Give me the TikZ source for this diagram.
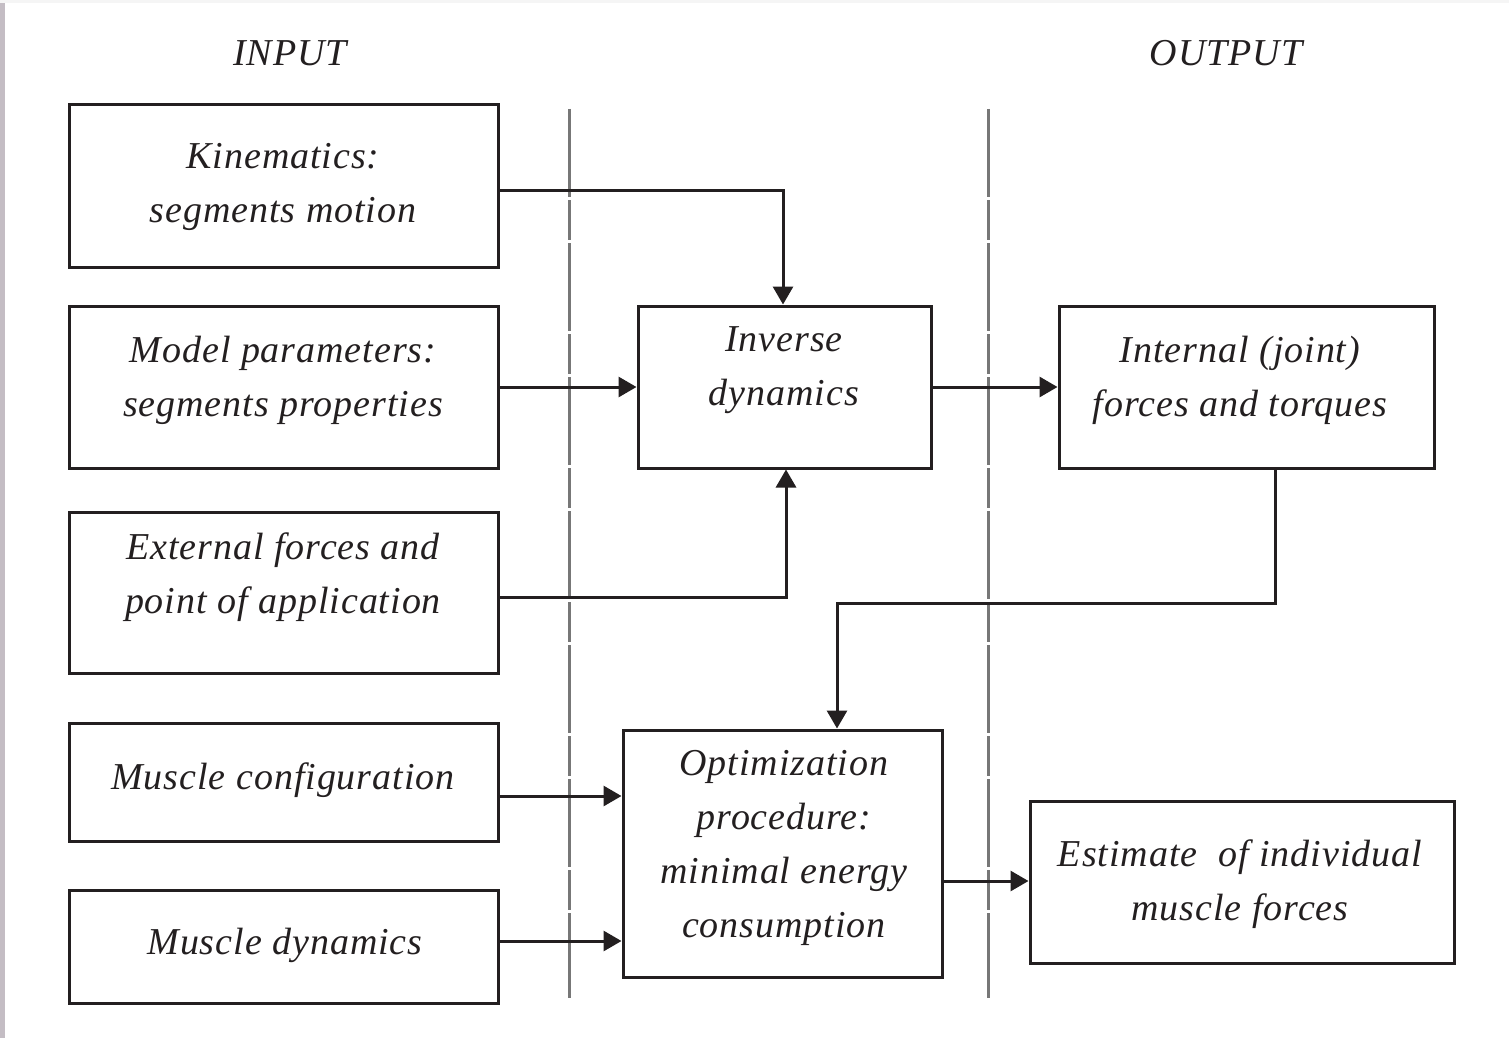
\documentclass[tikz,border=0pt]{standalone}
\usepackage{fontspec}
\setmainfont[LetterSpace=2.5]{Liberation Serif}
\usetikzlibrary{arrows.meta,calc}
\definecolor{ink}{HTML}{231F20}
\definecolor{sepgray}{HTML}{777777}
\begin{document}
\begin{tikzpicture}[x=0.5pt,y=-0.5pt,
  box/.style={draw=ink, line width=1.5pt, inner sep=0pt},
  txt/.style={align=center, inner sep=0pt, font=\fontsize{19}{27}\selectfont\itshape, text=ink},
  conn/.style={line width=1.5pt, draw=ink, -{Triangle[length=9pt,width=10pt]}},
  sepline/.style={line width=1.5pt, draw=sepgray, dash pattern=on 44pt off 1.5pt on 20pt off 1.5pt}]
\useasboundingbox (0,0) rectangle (1509,1038);
\fill[white] (0,0) rectangle (1509,1038);
\fill[white!90!violet!60!gray] (0,0) rectangle (5,1038);
\fill[black!4] (0,0) rectangle (1509,3);

% separators
\draw[sepline] (569,109) -- (569,998);
\draw[sepline] (988,109) -- (988,998);

% headers
\node[txt] (inp) at (290,53) {INPUT};
\node[txt] (outp) at (1226,53) {OUTPUT};

% boxes
\node[box, minimum width=214.5pt, minimum height=81pt] (kin) at (283.5,186) {};
\node[box, minimum width=214.5pt, minimum height=81pt] (mod) at (283.5,387) {};
\node[box, minimum width=214.5pt, minimum height=80.5pt] (ext) at (283.5,592.5) {};
\node[box, minimum width=214.5pt, minimum height=59pt] (mus) at (283.5,782) {};
\node[box, minimum width=214.5pt, minimum height=56.5pt] (mdy) at (283.5,946.5) {};
\node[box, minimum width=146.5pt, minimum height=81pt] (inv) at (784.5,387) {};
\node[box, minimum width=187.5pt, minimum height=81pt] (int) at (1246.5,387) {};
\node[box, minimum width=159.5pt, minimum height=123.5pt] (opt) at (782.5,853.5) {};
\node[box, minimum width=212pt, minimum height=81pt] (est) at (1242,882) {};

% texts
\node[txt] (kint) at (283,187) {Kinematics:\\segments motion};
\node[txt] (modt) at (283,380) {Model parameters:\\segments properties};
\node[txt] (extt) at (283,577) {External forces and\\point of application};
\node[txt] (must) at (283,780) {Muscle configuration};
\node[txt] (mdyt) at (285,945) {Muscle dynamics};
\node[txt] (invt) at (784,370) {Inverse\\dynamics};
\node[txt] (intt) at (1240,380) {Internal (joint)\\forces and torques};
\node[txt] (optt) at (784,848) {Optimization\\procedure:\\minimal energy\\consumption};
\node[txt] (estt) at (1240,884) {Estimate\ \ of individual\\muscle forces};

% connectors
\draw[conn] ($(kin.east)+(0,4)$) -| ($(inv.north)+(-1.5,0)$);
\draw[conn] (mod.east) -- (inv.west);
\draw[conn] ($(ext.east)+(0,4.5)$) -| ($(inv.south)+(1.5,0)$);
\draw[conn] (inv.east) -- (int.west);
\draw[conn] ($(int.south)+(28.5,0)$) |- ($(opt.north)+(54.5,-125)$) -- ($(opt.north)+(54.5,0)$);
\draw[conn] ($(mus.east)+(0,14)$) -- ($(opt.west)+(0,-57.5)$);
\draw[conn] ($(mdy.east)+(0,-5.5)$) -- ($(opt.west)+(0,87.5)$);
\draw[conn] ($(opt.east)+(0,27.5)$) -- ($(est.west)+(0,-1)$);
\end{tikzpicture}
\end{document}
